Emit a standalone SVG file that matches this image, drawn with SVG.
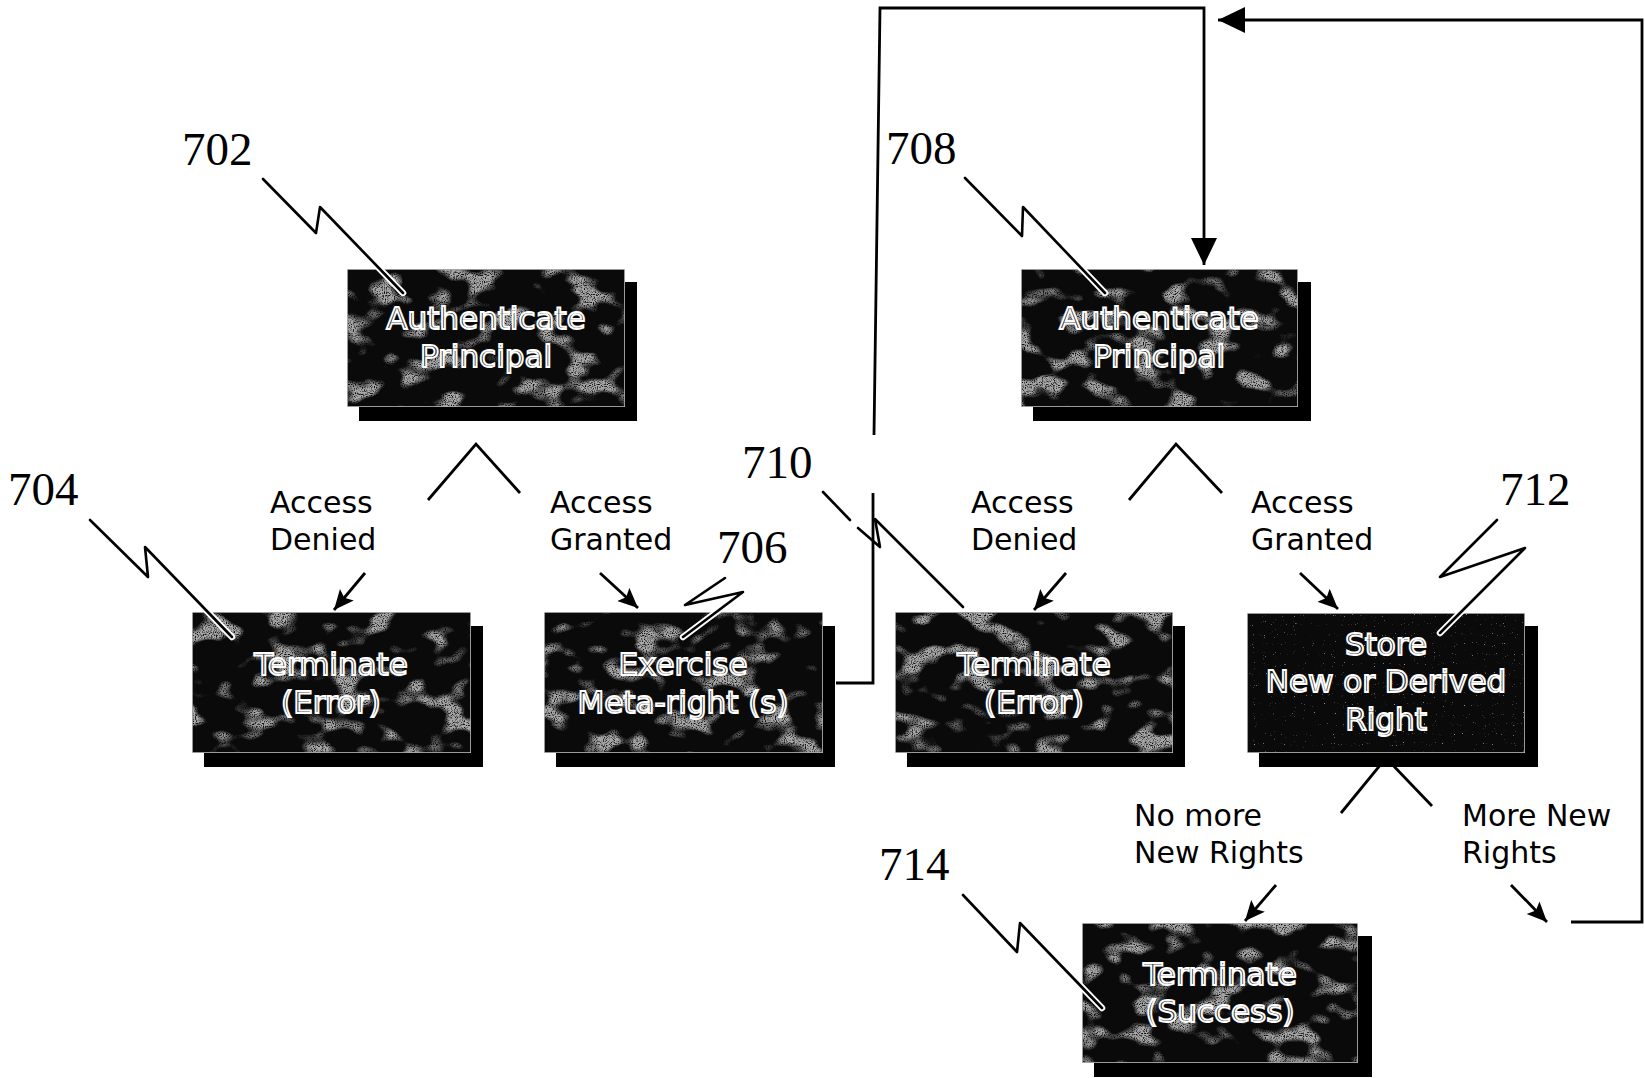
<svg xmlns="http://www.w3.org/2000/svg" width="1645" height="1078" viewBox="0 0 1645 1078">
<style>
.box{fill:#0a0a0a;stroke:#c8c8c8;stroke-width:1.5}
.shadow{fill:#000}
.bt{font-family:"DejaVu Sans","Verdana",sans-serif;font-size:31px;fill:#1e1e1e;stroke:#fff;stroke-width:1.9;text-anchor:middle}
.lbl{font-family:"DejaVu Sans","Verdana",sans-serif;font-size:30px;fill:#000}
.ref{font-family:"Liberation Serif","Times New Roman",serif;font-size:47px;fill:#000}
.ln{fill:none;stroke:#000;stroke-width:2.8;stroke-linejoin:miter}
.arr{fill:none;stroke:#000;stroke-width:2.8;marker-end:url(#ah)}
.lw{fill:none;stroke:#fff;stroke-width:6.5;stroke-linejoin:round;stroke-linecap:round}
.lb{fill:none;stroke:#000;stroke-width:2.6;stroke-linejoin:round;stroke-linecap:round}
</style>
<defs>
<marker id="ah" markerUnits="userSpaceOnUse" markerWidth="22" markerHeight="20" refX="20" refY="9" orient="auto">
<path d="M0,0 L20,9 L0,18 L4,9 z" fill="#000"/>
</marker>
<marker id="big" markerUnits="userSpaceOnUse" markerWidth="30" markerHeight="28" refX="27" refY="13" orient="auto">
<path d="M0,0 L27,13 L0,26 z" fill="#000"/>
</marker>
<filter id="mottle" filterUnits="objectBoundingBox" x="0" y="0" width="1" height="1" color-interpolation-filters="sRGB">
<feTurbulence type="fractalNoise" baseFrequency="0.03 0.045" numOctaves="2" seed="7" result="n"/>
<feColorMatrix in="n" type="matrix" values="0 0 0 0 0.66  0 0 0 0 0.66  0 0 0 0 0.66  7 0 0 0 -3.75" result="blob"/>
<feTurbulence type="fractalNoise" baseFrequency="0.9" numOctaves="1" seed="3" result="grain"/>
<feColorMatrix in="grain" type="matrix" values="0 0 0 0 0  0 0 0 0 0  0 0 0 0 0  0 4 0 0 -1.1" result="g2"/>
<feComposite in="blob" in2="g2" operator="in" result="spots"/>
<feMerge><feMergeNode in="SourceGraphic"/><feMergeNode in="spots"/></feMerge>
</filter>
<filter id="mottle2" filterUnits="objectBoundingBox" x="0" y="0" width="1" height="1" color-interpolation-filters="sRGB">
<feTurbulence type="fractalNoise" baseFrequency="0.9" numOctaves="1" seed="5" result="grain"/>
<feColorMatrix in="grain" type="matrix" values="0 0 0 0 0.6  0 0 0 0 0.6  0 0 0 0 0.6  0 9 0 0 -6.3" result="g2"/>
<feMerge><feMergeNode in="SourceGraphic"/><feMergeNode in="g2"/></feMerge>
</filter>
</defs>
<rect x="0" y="0" width="1645" height="1078" fill="#fff"/>

<g id="connectors">
<polyline class="ln" points="428,500 476,444 520,493"/>
<polyline class="ln" points="1129,500 1176,444 1222,493"/>
<polyline class="ln" points="1341,813 1386,758 1432,806"/>
<line class="arr" x1="365" y1="573" x2="334" y2="610"/>
<line class="arr" x1="600" y1="573" x2="638" y2="608"/>
<line class="arr" x1="1066" y1="573" x2="1034" y2="610"/>
<line class="arr" x1="1300" y1="573" x2="1338" y2="609"/>
<line class="arr" x1="1276" y1="885" x2="1245" y2="921"/>
<line class="arr" x1="1511" y1="885" x2="1547" y2="922"/>
<path class="ln" d="M836,683 H873 V493"/>
<path class="ln" d="M874,435 L880,8 H1204 V265" marker-end="url(#big)"/>
<path class="ln" d="M1571,922 H1642 V20 H1218" marker-end="url(#big)"/>
</g>

<g id="n702">
<rect class="shadow" x="359" y="282" width="278" height="139"/>
<rect class="box" x="347" y="269" width="278" height="138" filter="url(#mottle)"/>
<text class="bt" x="486" y="329">Authenticate</text>
<text class="bt" x="486" y="367">Principal</text>
</g>
<g id="n708">
<rect class="shadow" x="1033" y="282" width="278" height="139"/>
<rect class="box" x="1021" y="269" width="277" height="138" filter="url(#mottle)"/>
<text class="bt" x="1159" y="329">Authenticate</text>
<text class="bt" x="1159" y="367">Principal</text>
</g>
<g id="n704">
<rect class="shadow" x="204" y="626" width="279" height="141"/>
<rect class="box" x="192" y="612" width="279" height="141" filter="url(#mottle)"/>
<text class="bt" x="331" y="675">Terminate</text>
<text class="bt" x="331" y="713">(Error)</text>
</g>
<g id="n706">
<rect class="shadow" x="556" y="626" width="279" height="141"/>
<rect class="box" x="544" y="612" width="279" height="141" filter="url(#mottle)"/>
<text class="bt" x="683" y="675">Exercise</text>
<text class="bt" x="683" y="713">Meta-right (s)</text>
</g>
<g id="n710">
<rect class="shadow" x="907" y="626" width="278" height="141"/>
<rect class="box" x="895" y="612" width="278" height="141" filter="url(#mottle)"/>
<text class="bt" x="1034" y="675">Terminate</text>
<text class="bt" x="1034" y="713">(Error)</text>
</g>
<g id="n712">
<rect class="shadow" x="1259" y="626" width="279" height="141"/>
<rect class="box" x="1247" y="613" width="278" height="140" filter="url(#mottle2)"/>
<text class="bt" x="1386" y="655">Store</text>
<text class="bt" x="1386" y="692">New or Derived</text>
<text class="bt" x="1386" y="730">Right</text>
</g>
<g id="n714">
<rect class="shadow" x="1094" y="936" width="278" height="141"/>
<rect class="box" x="1082" y="923" width="276" height="140" filter="url(#mottle)"/>
<text class="bt" x="1220" y="985">Terminate</text>
<text class="bt" x="1220" y="1022">(Success)</text>
</g>

<g id="labels">
<text class="lbl" x="270" y="513">Access</text>
<text class="lbl" x="270" y="550">Denied</text>
<text class="lbl" x="550" y="513">Access</text>
<text class="lbl" x="550" y="550">Granted</text>
<text class="lbl" x="971" y="513">Access</text>
<text class="lbl" x="971" y="550">Denied</text>
<text class="lbl" x="1251" y="513">Access</text>
<text class="lbl" x="1251" y="550">Granted</text>
<text class="lbl" x="1134" y="826">No more</text>
<text class="lbl" x="1134" y="863">New Rights</text>
<text class="lbl" x="1462" y="826">More New</text>
<text class="lbl" x="1462" y="863">Rights</text>
</g>

<g id="refs">
<text class="ref" x="182" y="165">702</text>
<text class="ref" x="886" y="164">708</text>
<text class="ref" x="8" y="505">704</text>
<text class="ref" x="742" y="478">710</text>
<text class="ref" x="717" y="563">706</text>
<text class="ref" x="1500" y="505">712</text>
<text class="ref" x="879" y="880">714</text>
<g id="leaders">
<polyline class="lw" points="263,179 316,233 320,207 403,293"/>
<polyline class="lb" points="263,179 316,233 320,207 403,293"/>
<polyline class="lw" points="965,178 1022,236 1023,207 1105,293"/>
<polyline class="lb" points="965,178 1022,236 1023,207 1105,293"/>
<polyline class="lw" points="90,520 148,577 145,547 232,637"/>
<polyline class="lb" points="90,520 148,577 145,547 232,637"/>
<polyline class="lw" points="725,578 685,605 743,592 683,637"/>
<polyline class="lb" points="725,578 685,605 743,592 683,637"/>
<polyline class="lw" points="1497,520 1440,577 1525,548 1440,633"/>
<polyline class="lb" points="1497,520 1440,577 1525,548 1440,633"/>
<polyline class="lw" points="963,895 1017,952 1020,923 1102,1008"/>
<polyline class="lb" points="963,895 1017,952 1020,923 1102,1008"/>
<line class="lb" x1="823" y1="492" x2="850" y2="520"/>
<polyline class="lb" points="858,528 880,547 875,519 963,607"/>
</g>
</g>
</svg>
